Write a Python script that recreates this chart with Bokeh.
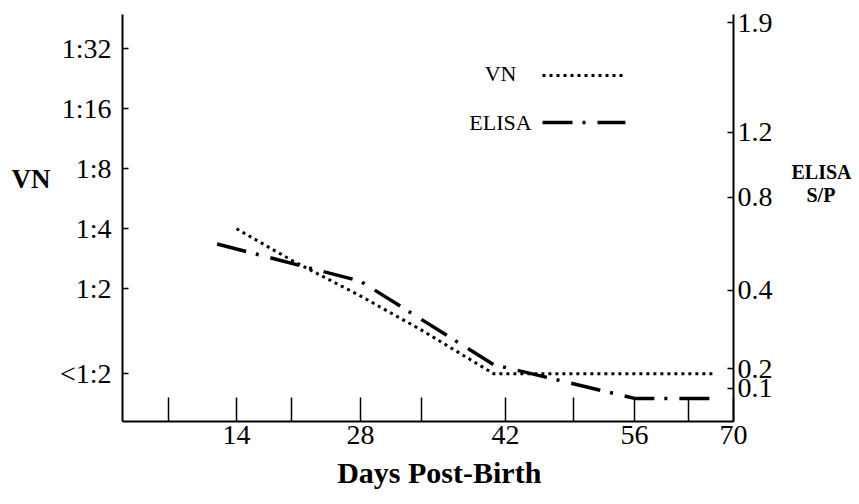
from bokeh.plotting import figure
from bokeh.models import (Range1d, LinearAxis, LinearScale, FixedTicker, CustomJSTickFormatter,
                          CustomJSTransform, ColumnDataSource, Label, Arrow)
from bokeh.transform import transform
from bokeh.embed import file_html
from bokeh.resources import INLINE

# ---------------- data ----------------
VN_DAYS = [14, 21, 28, 35, 41, 49, 56, 63, 67]
VN_TITER = [4.0, 2.78, 1.84, 1.24, 0.75, 0.75, 0.75, 0.75, 0.75]  # reciprocal titer; 0.75 plotted as "<1:2"
ELISA_DAYS = [12, 28, 41, 56, 67]
ELISA_SP = [0.60, 0.44, 0.21, 0.07, 0.07]

# ---------------- tick labels ----------------
DAY_TICKS = [7, 14, 21, 28, 35, 42, 49, 56, 63, 70]
DAY_LABELS = ["", "14", "", "28", "", "42", "", "56", "", "70"]
VN_TICKS = [0.75, 2, 4, 8, 16, 32]
VN_LABELS = ["<1:2", "1:2", "1:4", "1:8", "1:16", "1:32"]
SP_TICKS = [0.1, 0.2, 0.4, 0.8, 1.2, 1.9]
SP_LABELS = ["0.1", "0.2", "0.4", "0.8", "1.2", "1.9"]

# ---------------- hand-drawn axis calibration (fraction of axis length) ----------------
DAY_AXIS_POS = [0.0753, 0.1866, 0.2766, 0.3895, 0.4894, 0.6268, 0.7381, 0.8380, 0.9264, 1.0]
SP_AXIS_POS = [0.0811, 0.1302, 0.3219, 0.5504, 0.7101, 0.9803]

FONT = "Liberation Serif"
NB = "\u00a0"

INTERP_V = """
const out = new Float64Array(xs.length);
for (let k = 0; k < xs.length; k++) {
  const v = xs[k];
  let i = 0;
  while (i < dom.length - 2 && v > dom[i + 1]) i++;
  const t = (v - dom[i]) / (dom[i + 1] - dom[i]);
  out[k] = rng[i] + t * (rng[i + 1] - rng[i]);
}
return out;
"""
INTERP_S = """
let i = 0;
while (i < dom.length - 2 && x > dom[i + 1]) i++;
const t = (x - dom[i]) / (dom[i + 1] - dom[i]);
return rng[i] + t * (rng[i + 1] - rng[i]);
"""

day_map = CustomJSTransform(args=dict(dom=DAY_TICKS, rng=DAY_AXIS_POS), func=INTERP_S, v_func=INTERP_V)
sp_map = CustomJSTransform(args=dict(dom=[0.0] + SP_TICKS, rng=[0.0] + SP_AXIS_POS), func=INTERP_S, v_func=INTERP_V)

LABEL_CODE = """
let best = 0, bd = Infinity;
for (let i = 0; i < pos.length; i++) { const d = Math.abs(pos[i] - tick); if (d < bd) { bd = d; best = i; } }
return lab[best];
"""

p = figure(width=859, height=500, x_range=Range1d(0, 1), y_range=Range1d(0.4315, 47.5),
           y_axis_type="log", output_backend="svg", toolbar_location=None,
           min_border_left=122, min_border_right=126, min_border_top=14, min_border_bottom=79)
p.extra_y_ranges = {"elisa": Range1d(0, 1)}
p.extra_y_scales = {"elisa": LinearScale()}
p.grid.visible = False
p.outline_line_color = None
p.background_fill_color = "white"
p.border_fill_color = "white"


def style_axis(ax, tick_in, standoff):
    ax.axis_line_color = "black"
    ax.axis_line_width = 2
    ax.major_tick_line_color = "black"
    ax.major_tick_line_width = 1.5
    ax.major_tick_in = tick_in
    ax.major_tick_out = 0
    ax.minor_tick_line_color = None
    ax.major_label_text_font = FONT
    ax.major_label_text_font_size = "28px"
    ax.major_label_text_color = "black"
    ax.major_label_standoff = standoff


def title_axis(ax, text, size, standoff, line_height=1.2):
    ax.ticker = FixedTicker(ticks=[])
    ax.axis_line_color = None
    ax.major_tick_line_color = None
    ax.minor_tick_line_color = None
    ax.major_tick_in = 0
    ax.major_tick_out = 0
    ax.major_label_text_font_size = "0px"
    ax.axis_label = text
    ax.axis_label_text_font = FONT
    ax.axis_label_text_font_style = "bold"
    ax.axis_label_text_font_size = size
    ax.axis_label_text_color = "black"
    ax.axis_label_text_line_height = line_height
    ax.axis_label_standoff = standoff


xa = p.xaxis[0]
xa.ticker = FixedTicker(ticks=DAY_AXIS_POS)
xa.formatter = CustomJSTickFormatter(args=dict(pos=DAY_AXIS_POS, lab=DAY_LABELS), code=LABEL_CODE)
style_axis(xa, 24, 4)

ya = p.yaxis[0]
ya.ticker = FixedTicker(ticks=VN_TICKS)
ya.formatter = CustomJSTickFormatter(args=dict(pos=VN_TICKS, lab=VN_LABELS), code=LABEL_CODE)
style_axis(ya, 6, 11)

ra = LinearAxis(y_range_name="elisa")
ra.ticker = FixedTicker(ticks=SP_AXIS_POS)
ra.formatter = CustomJSTickFormatter(args=dict(pos=SP_AXIS_POS, lab=SP_LABELS), code=LABEL_CODE)
style_axis(ra, 6, 4)
p.add_layout(ra, "right")

# axis titles, carried by label-only axes placed outside the tick-label axes
# (trailing blank lines lift the title block above the middle of the axis, as in the reference)
vn_title = LinearAxis(y_range_name="elisa", axis_label_orientation="horizontal")
title_axis(vn_title, "VN\n" + NB + "\n" + NB, "27px", 6, 1.3)
p.add_layout(vn_title, "left")

el_title = LinearAxis(y_range_name="elisa", axis_label_orientation="horizontal")
title_axis(el_title, "ELISA\n" + NB * 3 + "S/P\n" + "\n".join([NB] * 3), "20px", 16, 1.05)
p.add_layout(el_title, "right")

x_title = LinearAxis()
title_axis(x_title, NB * 3 + "Days Post-Birth", "30px", 9)
p.add_layout(x_title, "below")

vn_src = ColumnDataSource(dict(day=VN_DAYS, titer=VN_TITER))
el_src = ColumnDataSource(dict(day=ELISA_DAYS, sp=ELISA_SP))

VN_DASH = "3 4"
EL_DASH = "30 10 3 12"

p.line(x=transform("day", day_map), y="titer", source=vn_src,
       line_color="black", line_width=3, line_dash=VN_DASH)
p.line(x=transform("day", day_map), y=transform("sp", sp_map), source=el_src, y_range_name="elisa",
       line_color="black", line_width=3.5, line_dash=EL_DASH)

# legend (label left, sample right)
for txt, ly in (("VN", 0.855), ("ELISA", 0.7346)):
    p.add_layout(Label(x=0.6187, y=ly, y_range_name="elisa", text=txt, text_font=FONT,
                       text_font_size="22px", text_align="center", text_baseline="middle",
                       text_color="black"))
p.add_layout(Arrow(end=None, x_start=0.6874, x_end=0.8183, y_start=0.8501, y_end=0.8501,
                   y_range_name="elisa", line_color="black", line_width=3, line_dash=VN_DASH))
p.add_layout(Arrow(end=None, x_start=0.6874, x_end=0.8232, y_start=0.7346, y_end=0.7346,
                   y_range_name="elisa", line_color="black", line_width=3.5, line_dash=EL_DASH))

open("out.html", "w").write(file_html(p, INLINE))
